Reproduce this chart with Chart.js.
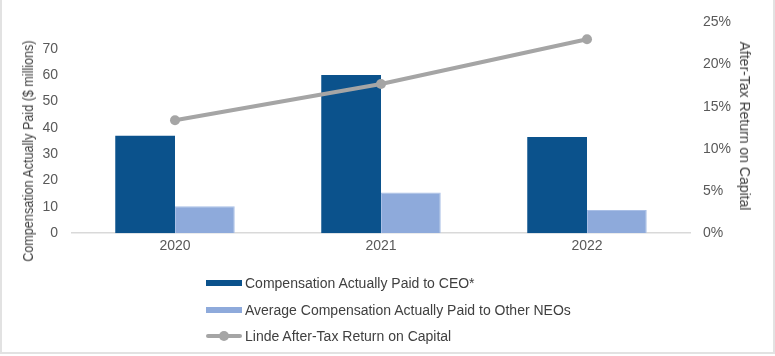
<!DOCTYPE html>
<html>
<head>
<meta charset="utf-8">
<script src="https://cdn.jsdelivr.net/npm/chart.js@4.4.0/dist/chart.umd.min.js"></script>
<style>
  html, body { margin: 0; padding: 0; background: #fff; }
  #wrap { position: relative; width: 775px; height: 356px; overflow: hidden; }
  #frame { position: absolute; left: 0; top: 0; width: 771px; height: 352px;
           border-left: 2px solid #e2e2e2; border-right: 2px solid #e2e2e2; border-bottom: 2px solid #e2e2e2; pointer-events: none; }
  canvas { position: absolute; left: 0; top: 0; }
  #legend { position: absolute; left: 206px; top: 270px; font-family: 'Liberation Sans', Arial, sans-serif;
            font-size: 14px; color: #404040; }
  .item { height: 26.5px; display: flex; align-items: center; }
  .sw { width: 36px; height: 6px; margin-right: 3px; position: relative; }
  .line { height: 4px; border-radius: 2px; }
  .dot { position: absolute; left: 13px; top: -3px; width: 10px; height: 10px; border-radius: 50%; }
  .ytitle { position: absolute; font-family: 'Liberation Sans', Arial, sans-serif; color: #404040;
            white-space: nowrap; line-height: 1; font-size: 14px; }
  #ltitle { left: 28px; top: 151px; transform: translate(-50%, -50%) rotate(-90deg) scaleX(0.9); }
  #rtitle { left: 745px; top: 126px; transform: translate(-50%, -50%) rotate(90deg); }
</style>
</head>
<body>
<div id="wrap">
  <canvas id="c" width="775" height="356"></canvas>
  <div id="ltitle" class="ytitle"></div>
  <div id="rtitle" class="ytitle"></div>
  <div id="legend"></div>
  <div id="frame"></div>
</div>
<script>
const categories = ['2020', '2021', '2022'];
const ceoPay = [37.0, 60.0, 36.5];
const neoPay = [10.2, 15.4, 8.8];
const returnOnCapital = [13.4, 17.7, 23.0];
const leftTicks = [0, 10, 20, 30, 40, 50, 60, 70];
const rightTicks = [0, 5, 10, 15, 20, 25];
const leftTitle = 'Compensation Actually Paid ($ millions)';
const rightTitle = 'After-Tax Return on Capital';
const seriesNames = [
  'Compensation Actually Paid to CEO*',
  'Average Compensation Actually Paid to Other NEOs',
  'Linde After-Tax Return on Capital'
];
const colors = ['#0B528C', '#8EAADB', '#A5A5A5'];

const font = { family: "'Liberation Sans', Arial, sans-serif", size: 14 };
const tickColor = '#595959';

const chart = new Chart(document.getElementById('c'), {
  data: {
    labels: categories,
    datasets: [
      { type: 'line', label: seriesNames[2], data: returnOnCapital, yAxisID: 'y1', order: 0,
        borderColor: colors[2], backgroundColor: colors[2], borderWidth: 4,
        pointRadius: 5, pointBackgroundColor: colors[2], pointBorderWidth: 0, tension: 0 },
      { type: 'bar', label: seriesNames[0], data: ceoPay, yAxisID: 'y', order: 1,
        backgroundColor: colors[0], borderWidth: 0, barPercentage: 1, categoryPercentage: 0.58 },
      { type: 'bar', label: seriesNames[1], data: neoPay, yAxisID: 'y', order: 1,
        backgroundColor: colors[1], borderColor: '#A9BFE6', borderWidth: 1, barPercentage: 1, categoryPercentage: 0.58 }
    ]
  },
  options: {
    responsive: false,
    animation: false,
    layout: { padding: { left: 42, right: 44, top: 12, bottom: 96 } },
    plugins: { legend: { display: false }, tooltip: { enabled: false } },
    scales: {
      x: {
        grid: { display: false, drawTicks: false },
        border: { display: true, color: '#d9d9d9', width: 1.5 },
        ticks: { font: font, color: tickColor, padding: 5 }
      },
      y: {
        position: 'left', min: 0, max: 80,
        afterBuildTicks: (s) => { s.ticks = leftTicks.concat([80]).map(v => ({ value: v })); },
        afterFit: (s) => { s.width = 30; },
        grid: { display: false, drawTicks: false }, border: { display: false },
        ticks: { font: font, color: tickColor, padding: 14,
                 callback: (v) => leftTicks.includes(v) ? String(v) : '' }
      },
      y1: {
        position: 'right', min: 0, max: 25,
        afterBuildTicks: (s) => { s.ticks = rightTicks.map(v => ({ value: v })); },
        afterFit: (s) => { s.width = 41; },
        grid: { display: false, drawTicks: false }, border: { display: false },
        ticks: { font: font, color: tickColor, padding: 13, callback: (v) => v + '%' }
      }
    }
  }
});

document.getElementById('ltitle').textContent = leftTitle;
document.getElementById('rtitle').textContent = rightTitle;

// HTML legend built from the datasets
const legend = document.getElementById('legend');
[1, 2, 0].forEach(i => {
  const ds = chart.data.datasets[i];
  const item = document.createElement('div');
  item.className = 'item';
  const sw = document.createElement('div');
  sw.className = 'sw';
  if (ds.type === 'line') {
    sw.classList.add('line');
    sw.style.background = ds.borderColor;
    const dot = document.createElement('div');
    dot.className = 'dot';
    dot.style.background = ds.borderColor;
    sw.appendChild(dot);
  } else {
    sw.style.background = ds.backgroundColor;
  }
  const t = document.createElement('span');
  t.textContent = ds.label;
  item.appendChild(sw);
  item.appendChild(t);
  legend.appendChild(item);
});
</script>
</body>
</html>
